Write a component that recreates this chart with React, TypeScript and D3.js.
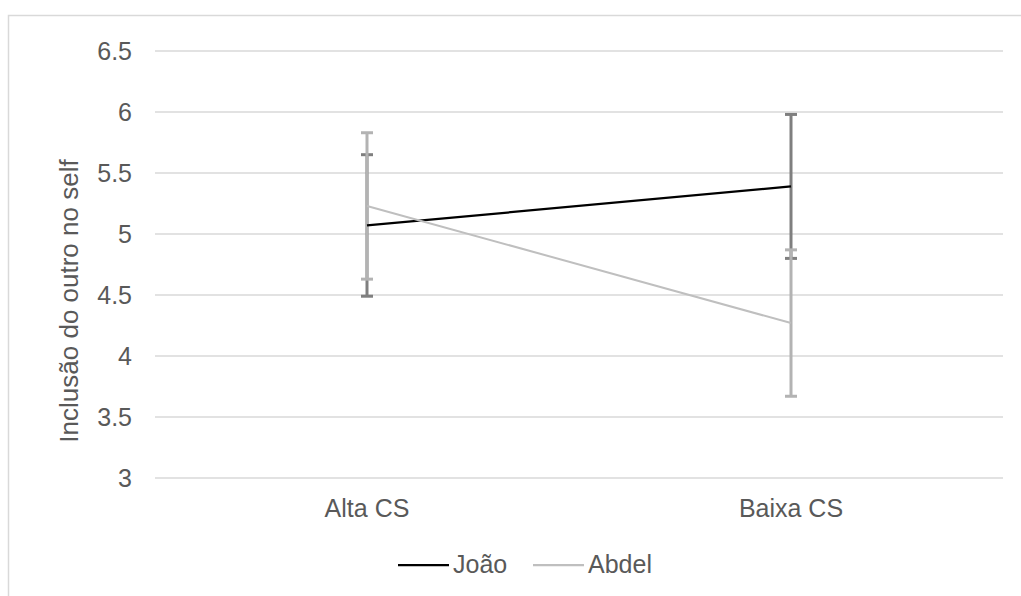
import React from "react";
import * as d3 from "d3";

const categories = ["Alta CS", "Baixa CS"];
const seriesNames = ["João", "Abdel"];
const joaoValues = [5.07, 5.39];
const joaoErrors = [0.58, 0.59];
const abdelValues = [5.23, 4.27];
const abdelErrors = [0.6, 0.6];
const yTicks = [3, 3.5, 4, 4.5, 5, 5.5, 6, 6.5];

const W = 1021;
const H = 596;
const font = "'Liberation Sans', Arial, sans-serif";
const textColor = "#595959";
const fs = 25;

export default function App() {
  const x = d3.scaleBand<string>().domain(categories).range([155, 1003]);
  const y = d3.scaleLinear().domain([3, 6.5]).range([478, 51]);
  const cx = (c: string) => (x(c) as number) + x.bandwidth() / 2;

  const series = [
    { name: seriesNames[0], values: joaoValues, errors: joaoErrors, color: "#000000", errColor: "#7f7f7f", width: 2.25 },
    { name: seriesNames[1], values: abdelValues, errors: abdelErrors, color: "#bfbfbf", errColor: "#b3b3b3", width: 2 },
  ];

  const line = d3
    .line<number>()
    .x((_, i) => cx(categories[i]))
    .y((d) => y(d));

  const legendItems = [
    { name: seriesNames[0], color: "#000000", x0: 398, x1: 449, tx: 453 },
    { name: seriesNames[1], color: "#bfbfbf", x0: 533, x1: 584, tx: 588 },
  ];

  return (
    <svg
      width={W}
      height={H}
      style={{ position: "absolute", left: 0, top: 0, background: "#fff" }}
    >
      <rect x={8.5} y={15.5} width={1040} height={620} fill="#fff" stroke="#d9d9d9" strokeWidth={1.5} />
      {yTicks.map((t) => (
        <g key={t}>
          <line x1={155} x2={1003} y1={y(t)} y2={y(t)} stroke="#d9d9d9" strokeWidth={1.5} />
          <text
            x={132}
            y={y(t)}
            dy="0.35em"
            textAnchor="end"
            fontFamily={font}
            fontSize={fs}
            fill={textColor}
          >
            {t}
          </text>
        </g>
      ))}
      <text
        transform={`translate(78, 301) rotate(-90)`}
        textAnchor="middle"
        fontFamily={font}
        fontSize={26}
        fill={textColor}
      >
        Inclusão do outro no self
      </text>
      {categories.map((c) => (
        <text
          key={c}
          x={cx(c)}
          y={517}
          textAnchor="middle"
          fontFamily={font}
          fontSize={fs}
          fill={textColor}
        >
          {c}
        </text>
      ))}
      {series.map((s) => (
        <g key={s.name}>
          {s.values.map((v, i) => {
            const px = cx(categories[i]);
            const top = y(v + s.errors[i]);
            const bot = y(v - s.errors[i]);
            return (
              <g key={i}>
                <line x1={px} x2={px} y1={top} y2={bot} stroke={s.errColor} strokeWidth={3} />
                <line x1={px - 6} x2={px + 6} y1={top} y2={top} stroke={s.errColor} strokeWidth={3} />
                <line x1={px - 6} x2={px + 6} y1={bot} y2={bot} stroke={s.errColor} strokeWidth={3} />
              </g>
            );
          })}
        </g>
      ))}
      {series.map((s) => (
        <path key={s.name} d={line(s.values) || ""} fill="none" stroke={s.color} strokeWidth={s.width} />
      ))}
      {legendItems.map((l) => (
        <g key={l.name}>
          <line x1={l.x0} x2={l.x1} y1={565} y2={565} stroke={l.color} strokeWidth={2.25} />
          <text x={l.tx} y={573} fontFamily={font} fontSize={fs} fill={textColor}>
            {l.name}
          </text>
        </g>
      ))}
    </svg>
  );
}
